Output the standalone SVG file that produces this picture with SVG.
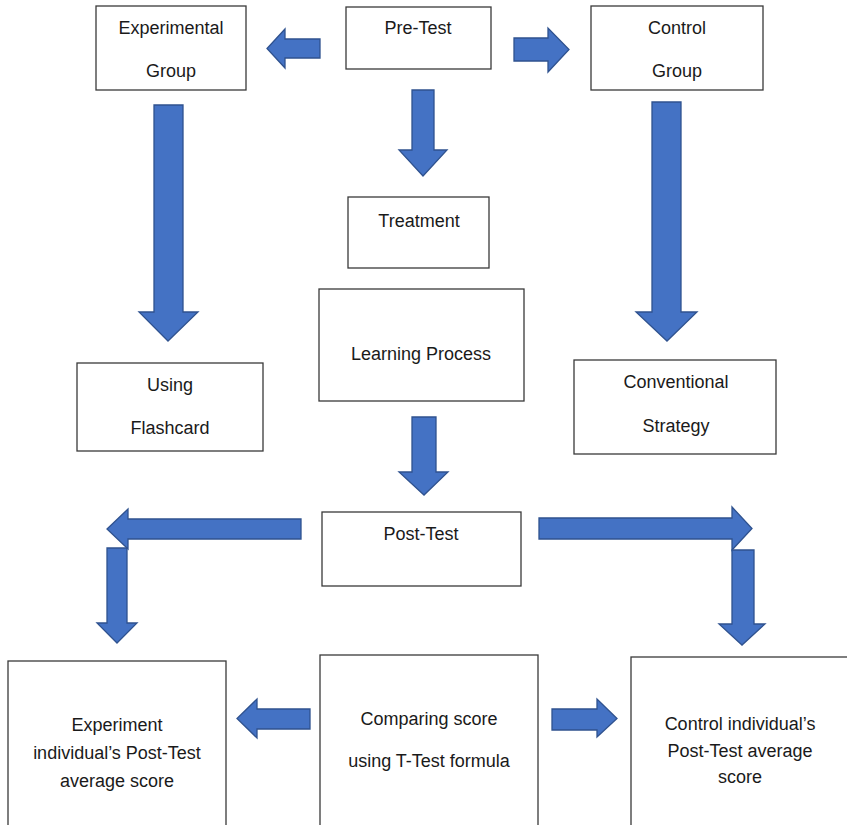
<svg xmlns="http://www.w3.org/2000/svg" width="847" height="825" viewBox="0 0 847 825">
<style>
.box{fill:#fff;stroke:#3a3a3a;stroke-width:1.3}
.arr{fill:#4472C4;stroke:#2F528F;stroke-width:1.3;stroke-linejoin:miter}
text{font-family:"Liberation Sans",Arial,sans-serif;font-size:18px;fill:#1a1a1a;text-anchor:middle}
</style>
<rect width="847" height="825" fill="#fff"/>
<g id="experimental-group"><rect class="box" x="96" y="6" width="150" height="84"/><text x="171" y="34">Experimental</text><text x="171" y="77">Group</text></g>
<g id="pre-test"><rect class="box" x="346" y="7" width="145" height="62"/><text x="418" y="34">Pre-Test</text></g>
<g id="control-group"><rect class="box" x="591" y="6" width="172" height="84"/><text x="677" y="34">Control</text><text x="677" y="77">Group</text></g>
<g id="treatment"><rect class="box" x="348" y="197" width="141" height="71"/><text x="419" y="227">Treatment</text></g>
<g id="learning-process"><rect class="box" x="319" y="289" width="205" height="112"/><text x="421" y="360">Learning Process</text></g>
<g id="using-flashcard"><rect class="box" x="77" y="363" width="186" height="88"/><text x="170" y="391">Using</text><text x="170" y="434">Flashcard</text></g>
<g id="conventional-strategy"><rect class="box" x="574" y="360" width="202" height="94"/><text x="676" y="388">Conventional</text><text x="676" y="432">Strategy</text></g>
<g id="post-test"><rect class="box" x="322" y="512" width="199" height="74"/><text x="421" y="540">Post-Test</text></g>
<g id="experiment-score"><rect class="box" x="8" y="661" width="218" height="180"/><text x="117" y="731">Experiment</text><text x="117" y="759">individual’s Post-Test</text><text x="117" y="787">average score</text></g>
<g id="comparing-score"><rect class="box" x="320" y="655" width="218" height="190"/><text x="429" y="725">Comparing score</text><text x="429" y="767">using T-Test formula</text></g>
<g id="control-score"><rect class="box" x="631" y="657" width="230" height="190"/><text x="740" y="730">Control individual’s</text><text x="740" y="757">Post-Test average</text><text x="740" y="783">score</text></g>
<g id="connectors">
<polygon class="arr" points="320,39 285,39 285,29 267,48.5 285,68 285,58 320,58"/>
<polygon class="arr" points="514,38 548,38 548,28 569,49.5 548,72 548,61 514,61"/>
<polygon class="arr" points="412,90 434,90 434,150 447,150 423,176 399,150 412,150"/>
<polygon class="arr" points="154,105 183,105 183,312 198,312 168,341 139,312 154,312"/>
<polygon class="arr" points="652,102 681,102 681,312 697,312 667,341 636,312 652,312"/>
<polygon class="arr" points="412,417 436,417 436,472 448,472 424,495 399,472 412,472"/>
<polygon class="arr" points="301,519 128,519 128,509 107,529 128,549 128,539 301,539"/>
<polygon class="arr" points="107,548 127,548 127,623 137,623 117,643 97,623 107,623"/>
<polygon class="arr" points="539,518 732,518 732,507 752,528.5 732,550 732,539 539,539"/>
<polygon class="arr" points="732,550 754,550 754,624 765,624 742,645 719,624 732,624"/>
<polygon class="arr" points="310,709 257,709 257,699 237,718.5 257,738 257,729 310,729"/>
<polygon class="arr" points="552,709 597,709 597,699 617,718.5 597,737 597,730 552,730"/>
</g>
</svg>
